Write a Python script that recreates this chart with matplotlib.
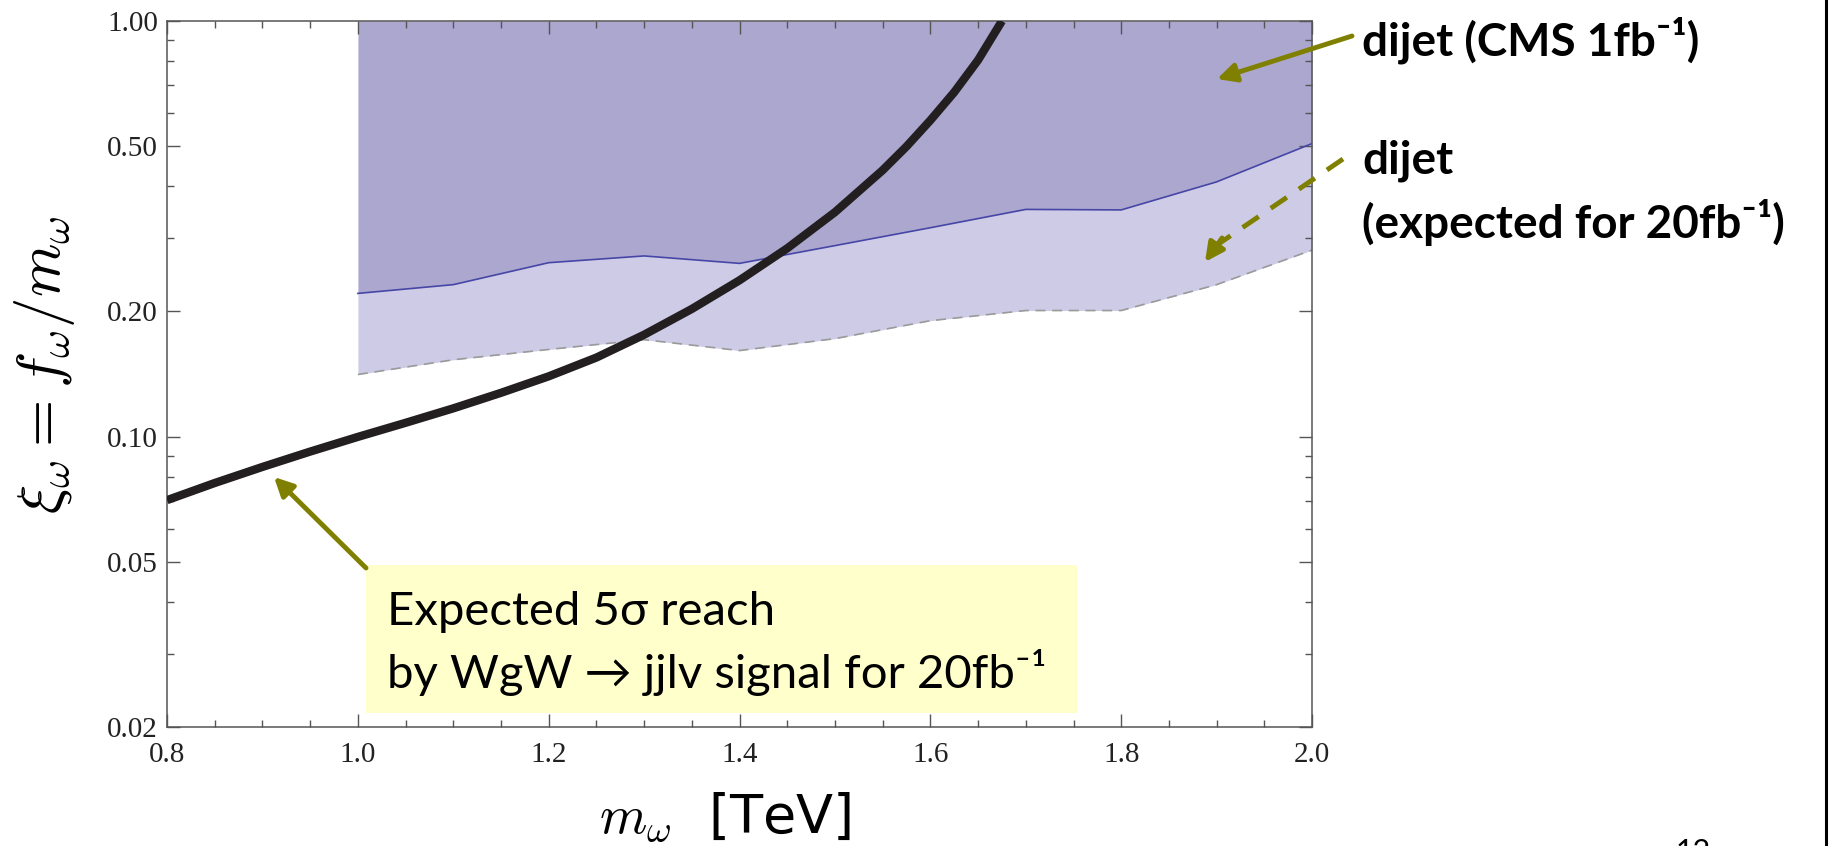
import numpy as np
import matplotlib.pyplot as plt
from matplotlib.lines import Line2D
from matplotlib.patches import Rectangle

plt.rcParams['mathtext.fontset'] = 'cm'

# dijet limits
mass = [1.0, 1.1, 1.2, 1.3, 1.4, 1.5, 1.6, 1.7, 1.8, 1.9, 2.0]
cms_1fb = [0.221, 0.232, 0.262, 0.272, 0.261, 0.288, 0.318, 0.352, 0.351, 0.410, 0.507]
expected_20fb = [0.141, 0.153, 0.162, 0.171, 0.161, 0.172, 0.190, 0.201, 0.201, 0.232, 0.281]

# expected 5 sigma reach (WgW -> jjlv)
reach_mass = [0.80, 0.85, 0.90, 0.95, 1.00, 1.05, 1.10, 1.15, 1.20, 1.25,
              1.30, 1.35, 1.40, 1.45, 1.50, 1.55, 1.575, 1.60, 1.625, 1.65, 1.675]
reach_xi = [0.0703, 0.0773, 0.0845, 0.0920, 0.0998, 0.1079, 0.1169, 0.1274, 0.1396, 0.1549,
            0.1758, 0.2028, 0.2377, 0.2838, 0.3467, 0.4375, 0.499, 0.5768, 0.674, 0.8054, 1.00]

y_major = [0.02, 0.05, 0.10, 0.20, 0.50, 1.00]
y_minor = [0.03, 0.04, 0.06, 0.07, 0.08, 0.09, 0.3, 0.4, 0.6, 0.7, 0.8, 0.9]
x_major = [0.8, 1.0, 1.2, 1.4, 1.6, 1.8, 2.0]
x_minor = [0.85, 0.9, 0.95, 1.05, 1.1, 1.15, 1.25, 1.3, 1.35, 1.45, 1.5, 1.55,
           1.65, 1.7, 1.75, 1.85, 1.9, 1.95]

W, H = 1834, 846
OLIVE = '#808000'
TXT_FONT = ['Lato', 'DejaVu Sans']


def px(x, y):
    # pixel position (from top-left) -> figure fraction
    return x / W, 1 - y / H


fig = plt.figure(figsize=(W / 100, H / 100), dpi=100)
ax = fig.add_axes([0.0911, 0.1407, 0.6243, 0.8345])

ax.fill_between(mass, cms_1fb, 1.0, color='#aba7cf', lw=0, zorder=1)
ax.fill_between(mass, expected_20fb, cms_1fb, color='#cdcbe6', lw=0, zorder=1)
ax.plot(mass, cms_1fb, color='#4646a6', lw=1.2, zorder=2)
ax.plot(mass, expected_20fb, color='#9a9a9a', lw=1.2, ls=(0, (6, 4)), zorder=2)
ax.plot(reach_mass, reach_xi, color='#231f20', lw=6, solid_capstyle='butt',
        solid_joinstyle='round', zorder=3)

ax.set_yscale('log')
ax.set_xlim(0.8, 2.0)
ax.set_ylim(0.02, 1.0)
ax.set_yticks(y_major)
ax.set_yticklabels(['%.2f' % v for v in y_major])
ax.set_yticks(y_minor, minor=True)
ax.yaxis.set_minor_formatter(plt.NullFormatter())
ax.set_xticks(x_major)
ax.set_xticklabels(['%.1f' % v for v in x_major])
ax.set_xticks(x_minor, minor=True)

for s in ax.spines.values():
    s.set_color('#555555')
    s.set_linewidth(1.1)
ax.tick_params(which='both', direction='in', top=True, right=True, color='#555555', width=1.0)
ax.tick_params(which='major', length=9.5)
ax.tick_params(which='minor', length=5)
ax.tick_params(axis='y', pad=6.5)
ax.tick_params(axis='x', pad=11)
for lab in ax.get_xticklabels() + ax.get_yticklabels():
    lab.set_fontfamily('Liberation Serif')
    lab.set_fontsize(21)
    lab.set_color('#222222')

ax.set_ylabel(r'$\xi_\omega = f_\omega/m_\omega$', fontsize=44)
ax.yaxis.set_label_coords(-0.079, 0.513)
ax.set_xlabel(r'$m_\omega$  [TeV]', fontsize=39, family='DejaVu Sans')
ax.xaxis.set_label_coords(0.487, -0.090)

# annotations
fig.text(*px(1362, 55), 'dijet (CMS 1fb\u207b\u00b9)', family=TXT_FONT, weight='bold',
         fontsize=33, va='baseline', ha='left')
fig.text(*px(1362, 173), 'dijet', family=TXT_FONT, weight='bold',
         fontsize=33, va='baseline', ha='left')
fig.text(*px(1362, 238), '(expected for 20fb\u207b\u00b9)', family=TXT_FONT, weight='bold',
         fontsize=33, va='baseline', ha='left')

box = Rectangle(px(366, 713), 711 / W, 148 / H, transform=fig.transFigure,
                facecolor='#ffffcc', edgecolor='none', zorder=2)
fig.add_artist(box)
fig.text(*px(387, 625), 'Expected 5\u03c3 reach', family=TXT_FONT, fontsize=34,
         va='baseline', ha='left', zorder=3)
fig.text(*px(387, 688), 'by WgW \u2192 jjlv signal for 20fb\u207b\u00b9', family=TXT_FONT,
         fontsize=34, va='baseline', ha='left', zorder=3)

arrow = dict(arrowstyle='-|>', color=OLIVE, lw=3.5, mutation_scale=28, shrinkA=0, shrinkB=0)
fig.add_artist(plt.Annotation('', xy=px(1217, 79), xytext=px(1352, 36),
                              xycoords='figure fraction', arrowprops=arrow))
fig.add_artist(plt.Annotation('', xy=px(274, 477), xytext=px(366, 568),
                              xycoords='figure fraction', arrowprops=arrow))
# dashed arrow: dashed shaft + solid head
fig.add_artist(Line2D([1343 / W, 1217 / W], [1 - 159 / H, 1 - 245 / H], transform=fig.transFigure,
                      color=OLIVE, lw=3.5, ls=(0, (4, 3))))
fig.add_artist(plt.Annotation('', xy=px(1205, 262), xytext=px(1222, 238),
                              xycoords='figure fraction', arrowprops=arrow))

# slide border and page number (cut off at the bottom, as on the slide)
fig.add_artist(Line2D([1826 / W, 1826 / W], [0, 1], transform=fig.transFigure,
                      color='black', lw=2.2))
fig.text(*px(1693, 838), '12', family=TXT_FONT, fontsize=22, va='top', ha='center')

fig.savefig('out.png', dpi=100)
